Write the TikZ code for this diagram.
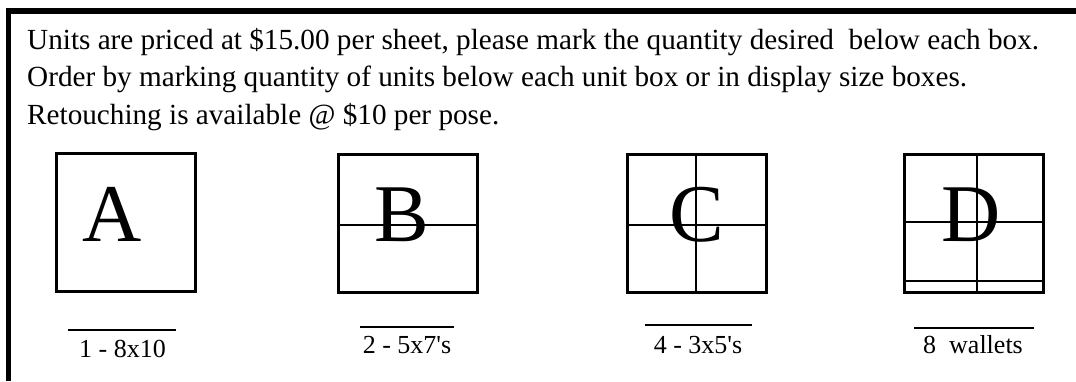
\documentclass[tikz,border=0pt]{standalone}
\usepackage{fontspec}
\setmainfont{Liberation Serif}
\usetikzlibrary{positioning}

\tikzset{
  unitbox/.style={draw, line width=2.6pt, minimum width=139.5pt, minimum height=138.5pt, inner sep=0pt},
  divider/.style={line width=2pt},
  blankline/.style={line width=1.1pt},
  bigletter/.style={font=\fontsize{82}{82}\selectfont, inner sep=0pt, anchor=base},
  sizelabel/.style={font=\fontsize{26}{26}\selectfont, inner sep=0pt, anchor=base},
  infoline/.style={font=\fontsize{29.2}{29.2}\selectfont, inner sep=0pt, anchor=base west},
}

\begin{document}
\begin{tikzpicture}[x=1pt,y=-1pt]

\useasboundingbox (0,0) rectangle (1076,381);

% Frame
\draw[line width=5.5pt] (8.5,381) |- (1076,11);

% Instructions
\node[infoline] (info1) at (27,49) {Units are priced at \$15.00 per sheet, please mark the quantity desired\ \ below each box.};
\node[infoline] (info2) at (27,86.5) {Order by marking quantity of units below each unit box or in display size boxes.};
\node[infoline] (info3) at (27,124) {Retouching is available @ \$10 per pose.};

% Unit boxes
\node[unitbox] (boxA) at (126,222.5) {};
\node[unitbox] (boxB) at (408,223.5) {};
\node[unitbox] (boxC) at (697,223.5) {};
\node[unitbox] (boxD) at (974,223.5) {};

% Dividers
\draw[divider] ([yshift=-1.5pt]boxB.west) -- ([yshift=-1.5pt]boxB.east);
\draw[divider] ([yshift=-1.5pt]boxC.west) -- ([yshift=-1.5pt]boxC.east);
\draw[divider] ([xshift=-1pt]boxC.north) -- ([xshift=-1pt]boxC.south);
\draw[divider] ([yshift=1.5pt]boxD.west) -- ([yshift=1.5pt]boxD.east);
\draw[divider] ([xshift=3pt]boxD.north) -- ([xshift=3pt]boxD.south);
\draw[divider] ([yshift=13pt]boxD.south west) -- ([yshift=13pt]boxD.south east);

% Letters
\node[bigletter] (letA) at (112.5,241) {A};
\node[bigletter] (letB) at (402,241) {B};
\node[bigletter] (letC) at (697,241) {C};
\node[bigletter] (letD) at (971,241) {D};

% Quantity blanks
\draw[blankline] (68,330) -- (176,330);
\draw[blankline] (360,327) -- (454,327);
\draw[blankline] (645,325) -- (752,325);
\draw[blankline] (914,328) -- (1034,328);

% Size labels
\node[sizelabel] (labA) at (122.5,357) {1 - 8x10};
\node[sizelabel] (labB) at (407,353) {2 - 5x7\textquotesingle s};
\node[sizelabel] (labC) at (698,353) {4 - 3x5\textquotesingle s};
\node[sizelabel] (labD) at (973,353) {8\ \ wallets};

\end{tikzpicture}
\end{document}
